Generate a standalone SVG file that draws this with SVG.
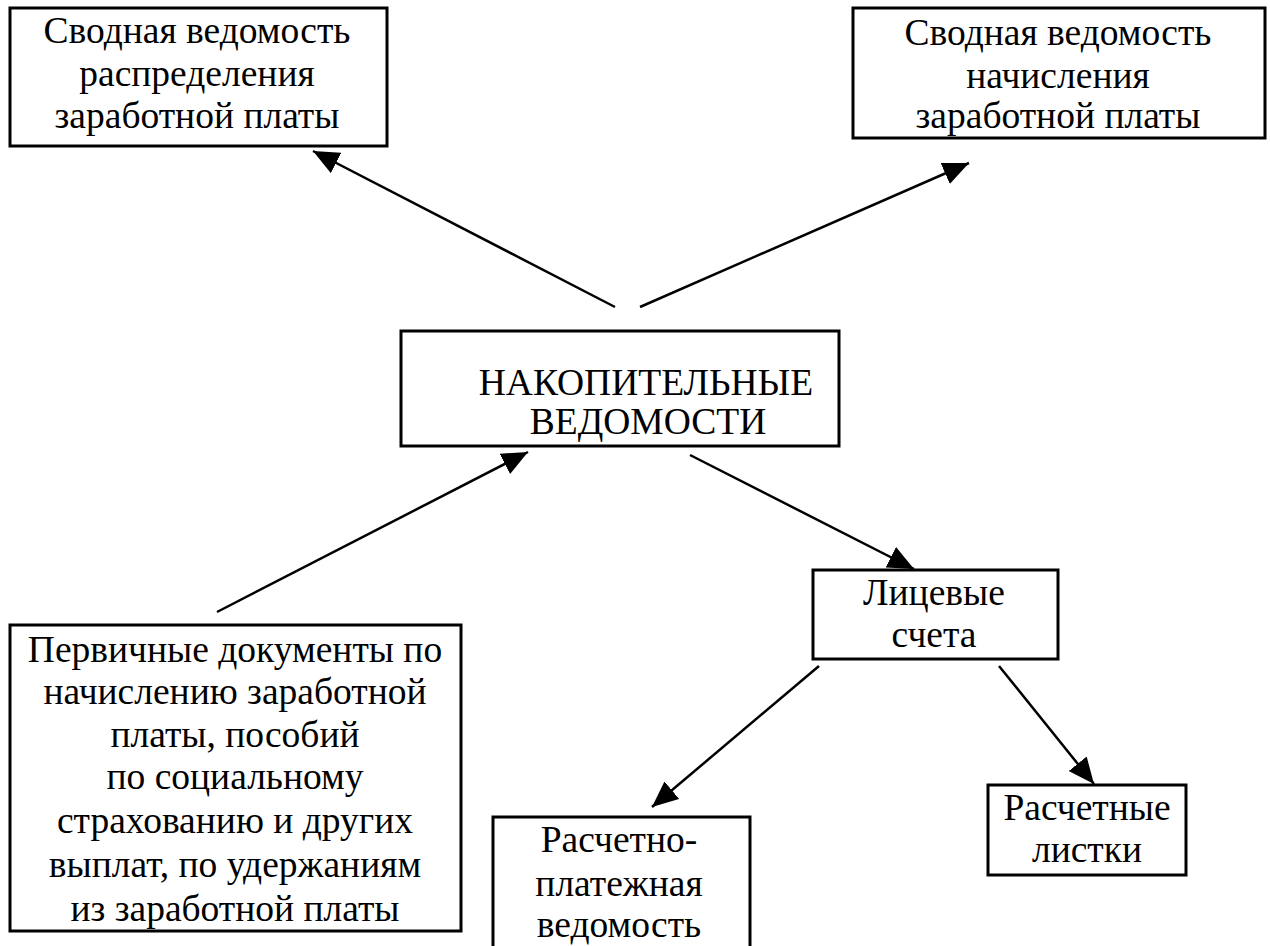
<svg xmlns="http://www.w3.org/2000/svg" width="1270" height="946" viewBox="0 0 1270 946">
<defs>
<style>
.box{fill:#fff;stroke:#000;stroke-width:3}
.t{font-family:"Liberation Serif","Times New Roman",serif;font-size:37.5px;fill:#000;text-anchor:middle}
.c{stroke:#000;stroke-width:2.5;fill:none;marker-end:url(#ah)}
</style>
<marker id="ah" markerUnits="userSpaceOnUse" markerWidth="28" markerHeight="24" refX="26" refY="11.5" orient="auto">
<path d="M0,0 L26,11.5 L0,23 z" fill="#000"/>
</marker>
</defs>
<rect width="1270" height="946" fill="#fff"/>
<g id="connectors">
<line class="c" x1="615" y1="307" x2="313" y2="151"/>
<line class="c" x1="640" y1="307" x2="969" y2="163"/>
<line class="c" x1="217" y1="612" x2="528" y2="452"/>
<line class="c" x1="690" y1="455" x2="914" y2="569"/>
<line class="c" x1="819" y1="666" x2="652" y2="807"/>
<line class="c" x1="999" y1="666" x2="1094" y2="784"/>
</g>
<g id="n1">
<rect class="box" x="10" y="8" width="377" height="138"/>
<text class="t" x="197" y="43">Сводная ведомость</text>
<text class="t" x="197" y="86">распределения</text>
<text class="t" x="197" y="128">заработной платы</text>
</g>
<g id="n2">
<rect class="box" x="853" y="8" width="412" height="130"/>
<text class="t" x="1058" y="45">Сводная ведомость</text>
<text class="t" x="1058" y="88">начисления</text>
<text class="t" x="1058" y="128">заработной платы</text>
</g>
<g id="n3">
<rect class="box" x="401" y="331" width="438" height="115"/>
<text class="t" x="646" y="395">НАКОПИТЕЛЬНЫЕ</text>
<text class="t" x="648" y="434">ВЕДОМОСТИ</text>
</g>
<g id="n4">
<rect class="box" x="10" y="625" width="451" height="306"/>
<text class="t" x="235" y="662">Первичные документы по</text>
<text class="t" x="235" y="704">начислению заработной</text>
<text class="t" x="235" y="747">платы, пособий</text>
<text class="t" x="235" y="789">по социальному</text>
<text class="t" x="235" y="833">страхованию и других</text>
<text class="t" x="235" y="877">выплат, по удержаниям</text>
<text class="t" x="235" y="921">из заработной платы</text>
</g>
<g id="n5">
<rect class="box" x="813" y="570" width="245" height="89"/>
<text class="t" x="934" y="605">Лицевые</text>
<text class="t" x="934" y="647">счета</text>
</g>
<g id="n6">
<rect class="box" x="493" y="817" width="257" height="140"/>
<text class="t" x="619" y="852">Расчетно-</text>
<text class="t" x="619" y="896">платежная</text>
<text class="t" x="619" y="937">ведомость</text>
</g>
<g id="n7">
<rect class="box" x="988" y="785" width="198" height="90"/>
<text class="t" x="1087" y="820">Расчетные</text>
<text class="t" x="1087" y="862">листки</text>
</g>
</svg>
